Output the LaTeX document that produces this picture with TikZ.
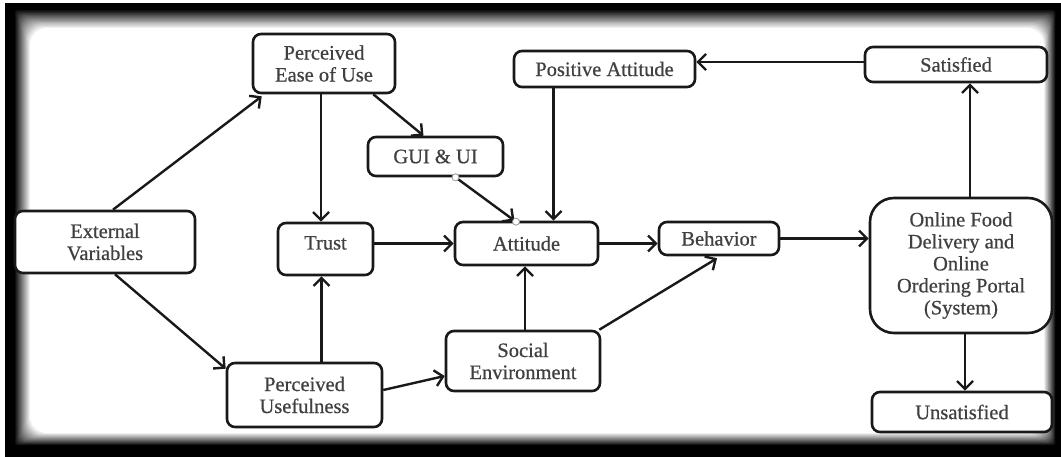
\documentclass[tikz,border=0pt]{standalone}
\usepackage{fontspec}
\setmainfont{Liberation Serif}
\newfontfamily\labelfont{Liberation Serif}[FakeBold=0.6]
\usetikzlibrary{arrows.meta}
\begin{document}
\begin{tikzpicture}[x=1pt,y=-1pt,
  box/.style={draw=black!90, line width=2.6pt, rounded corners=8pt, fill=white,
    align=center, inner sep=0pt, text=black!75,
    font=\labelfont\fontsize{20.5}{22}\selectfont},
  link/.style={draw=black!90, line width=2.4pt,
    -{Straight Barb[length=8pt,width=16pt]}},
  glue/.style={circle, draw=black!40, fill=white, line width=0.8pt,
    inner sep=0pt, minimum size=7pt}
]
% page and dark vignette frame
\useasboundingbox (0,0) rectangle (1061,457);
\fill[white] (0,0) rectangle (1061,457);
\fill[black] (5,3) rectangle (1061,457);
\foreach \i in {0,...,16}{
  \pgfmathsetmacro\lx{14+\i}
  \pgfmathsetmacro\ty{9+\i*19/16}
  \pgfmathsetmacro\rx{1056-\i*12/16}
  \pgfmathsetmacro\by{446-\i*13/16}
  \pgfmathsetmacro\shade{100*\i/16}
  \pgfmathsetmacro\rc{1+\i}
  \fill[white!\shade!black, rounded corners=\rc pt] (\lx,\ty) rectangle (\rx,\by);
}

% boxes
\node[box, minimum width=142pt, minimum height=59pt] (peou) at (324,63.5) {Perceived\\Ease of Use};
\node[box, minimum width=135pt, minimum height=39pt] (gui) at (435.5,156.5) {GUI \& UI};
\node[box, minimum width=180pt, minimum height=62pt] (ext) at (105,242) {External\\Variables};
\node[box, minimum width=95pt, minimum height=52pt, text height=14pt, text depth=13pt] (trust) at (325.5,249) {Trust};
\node[box, minimum width=143pt, minimum height=43pt] (att) at (526.5,243.5) {Attitude};
\node[box, minimum width=120pt, minimum height=33pt] (beh) at (719,238.5) {Behavior};
\node[box, minimum width=182pt, minimum height=135pt, rounded corners=24pt] (on) at (961,265.5)
  {Online Food\\Delivery and\\Online\\Ordering Portal\\(System)};
\node[box, minimum width=181pt, minimum height=36pt] (pa) at (604.5,69) {Positive Attitude};
\node[box, minimum width=182pt, minimum height=35pt] (sat) at (956,64.5) {Satisfied};
\node[box, minimum width=180pt, minimum height=40pt] (unsat) at (962,412) {Unsatisfied};
\node[box, minimum width=155pt, minimum height=64pt] (pu) at (304.5,395) {Perceived\\Usefulness};
\node[box, minimum width=154pt, minimum height=60pt] (se) at (523,361) {Social\\Environment};

% connectors
\draw[link] ([xshift=8pt]ext.north) -- ([xshift=10pt,yshift=-2pt]peou.south west);
\draw[link] ([xshift=10pt]ext.south) -- ([yshift=-7pt]pu.north west);
\draw[link] ([xshift=-3pt]peou.south) -- ([xshift=-3pt]peou.south |- trust.north);
\draw[link] ([xshift=-23pt]peou.south east) -- ([xshift=-12pt]gui.north);
\coordinate (g1) at ([xshift=20pt]gui.south);
\coordinate (g2) at ([xshift=-12pt]att.north);
\draw[link] (g1) -- (g2);
\node[glue] (g1c) at (g1) {};
\node[glue] (g2c) at ([xshift=1.5pt,yshift=-1pt]g2) {};
\draw[link] ([xshift=-51pt]pa.south) -- ([xshift=-51pt]pa.south |- att.north);
\draw[link] (trust.east |- att.west) -- (att.west);
\draw[link] ([xshift=17pt]pu.north) -- ([xshift=17pt]pu.north |- trust.south);
\draw[link] ([yshift=5pt]pu.east) -- ([yshift=-15pt]se.west);
\draw[link] ([xshift=2pt]se.north) -- ([xshift=2pt]se.north |- att.south);
\draw[link] ([xshift=-2pt]se.north east) -- ([xshift=-2pt,yshift=-2pt]beh.south);
\draw[link] (att.east) -- (att.east -| beh.west);
\draw[link] (beh.east) -- (beh.east -| on.west);
\draw[link] ([xshift=9pt]on.north) -- ([xshift=9pt]on.north |- sat.south);
\draw[link] ([xshift=4pt]on.south) -- ([xshift=4pt]on.south |- unsat.north);
\draw[link] ([yshift=2.5pt]sat.west) -- ([yshift=2.5pt]sat.west -| pa.east);
\end{tikzpicture}
\end{document}
